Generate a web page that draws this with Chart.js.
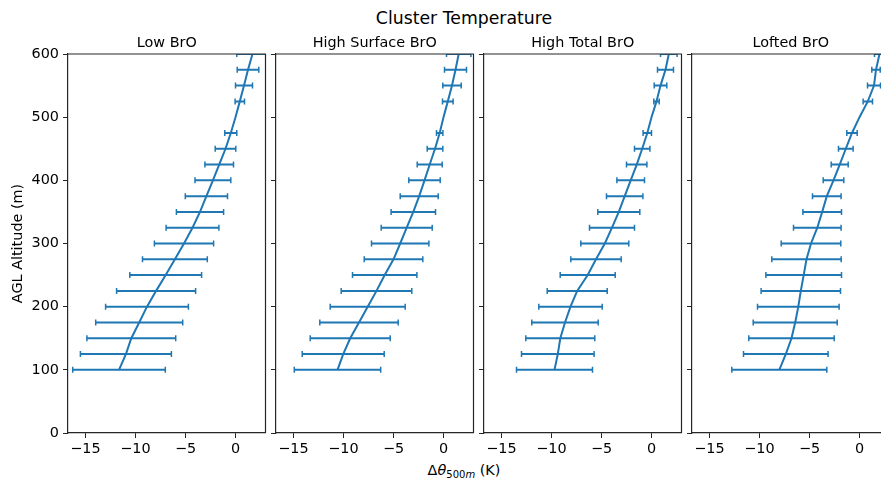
<!DOCTYPE html>
<html>
<head>
<meta charset="utf-8">
<script src="https://cdn.jsdelivr.net/npm/chart.js@4/dist/chart.umd.min.js"></script>
<style>
  html, body { margin: 0; padding: 0; background: #fff; width: 881px; height: 479px; overflow: hidden; position: relative; font-family: "DejaVu Sans", sans-serif; }
  canvas { position: absolute; top: 0; }
  .lbl { position: absolute; left: 0; width: 928px; text-align: center; color: #000; white-space: nowrap; }
  #sup { top: 8px; font-size: 17.3px; line-height: 20px; }
  #xl { top: 461px; font-size: 14.4px; line-height: 18px; }
  #xl sub { font-size: 10px; vertical-align: -3px; line-height: 0; }
</style>
</head>
<body>
<div id="sup" class="lbl">Cluster Temperature</div>
<div id="xl" class="lbl">Δ<i>θ</i><sub>500<i>m</i></sub> (K)</div>
<canvas id="c1" width="270" height="479" style="left:0px"></canvas>
<canvas id="c2" width="210" height="479" style="left:268px"></canvas>
<canvas id="c3" width="210" height="479" style="left:476px"></canvas>
<canvas id="c4" width="210" height="479" style="left:684px"></canvas>
<script>
// ---- data ----
const ALTITUDES = [100, 125, 150, 175, 200, 225, 250, 275, 300, 325, 350, 375, 400, 425, 450, 475, 500, 525, 550, 575, 600];
const PANEL_TITLES = ["Low BrO", "High Surface BrO", "High Total BrO", "Lofted BrO"];

const LOW_MEAN = [-11.65, -10.96, -10.42, -9.63, -8.85, -7.94, -6.98, -6.06, -5.15, -4.30, -3.55, -2.91, -2.26, -1.63, -1.00, -0.47, 0, 0.43, 0.85, 1.25, 1.70];
const LOW_ERR  = [4.63, 4.55, 4.44, 4.35, 4.14, 3.95, 3.59, 3.24, 2.96, 2.64, 2.36, 2.11, 1.79, 1.43, 1.03, 0.60, 0, 0.47, 0.85, 1.08, 1.57];

const HSURF_MEAN = [-10.60, -10.03, -9.33, -8.45, -7.58, -6.70, -5.88, -5.00, -4.33, -3.68, -3.02, -2.43, -1.90, -1.38, -0.85, -0.38, 0, 0.43, 0.85, 1.20, 1.52];
const HSURF_ERR  = [4.32, 4.10, 4.00, 3.92, 3.75, 3.53, 3.22, 2.93, 2.87, 2.55, 2.22, 1.90, 1.57, 1.25, 0.78, 0.32, 0, 0.53, 0.92, 1.10, 1.22];

const HTOT_MEAN = [-9.70, -9.37, -9.12, -8.65, -8.10, -7.43, -6.38, -5.55, -4.67, -3.95, -3.27, -2.68, -2.08, -1.48, -0.93, -0.42, 0, 0.50, 0.90, 1.40, 1.73];
const HTOT_ERR  = [3.80, 3.63, 3.45, 3.32, 3.17, 3.00, 2.75, 2.52, 2.40, 2.25, 2.10, 1.82, 1.38, 1.02, 0.77, 0.42, 0, 0.27, 0.63, 0.80, 0.83];

const LOFT_MEAN = [-8.02, -7.37, -6.80, -6.43, -6.12, -5.87, -5.58, -5.30, -4.85, -4.22, -3.73, -3.27, -2.60, -1.98, -1.37, -0.75, 0, 0.83, 1.45, 1.65, 2.00];
const LOFT_ERR  = [4.75, 4.23, 4.27, 4.20, 4.08, 3.97, 3.78, 3.47, 2.98, 2.38, 1.93, 1.43, 1.03, 0.85, 0.73, 0.52, 0, 0.47, 0.65, 0.42, 0.50];

const X_TICKS = [-15, -10, -5, 0];
const Y_TICKS = [0, 100, 200, 300, 400, 500, 600];
const X_MIN = -16.75, X_MAX = 3.0;
const Y_MIN = 0, Y_MAX = 600;

// ---- style ----
const BLUE = '#1f77b4';
const INK = '#000';
const SPINE = '#262626';
const FONT = '"DejaVu Sans", sans-serif';

const framePlugin = {
  id: 'frame',
  afterDatasetsDraw(chart) {
    const a = chart.chartArea, ctx = chart.ctx;
    ctx.save();
    ctx.strokeStyle = SPINE;
    ctx.lineWidth = 1.2;
    ctx.beginPath();
    ctx.moveTo(a.left, a.top);
    ctx.lineTo(a.right, a.top);
    ctx.lineTo(a.right, a.bottom);
    ctx.stroke();
    ctx.restore();
  }
};

function minusFmt(v) { return v < 0 ? '\u2212' + Math.abs(v) : String(v); }

function makePanel(id, title, means, errs, first) {
  const datasets = [];
  datasets.push({
    data: ALTITUDES.map((a, i) => ({ x: means[i], y: a })),
    borderColor: BLUE, borderWidth: 2, pointRadius: 0, tension: 0, fill: false
  });
  ALTITUDES.forEach((a, i) => {
    if (!(errs[i] > 0)) return;
    datasets.push({
      data: [{ x: means[i] - errs[i], y: a }, { x: means[i] + errs[i], y: a }],
      borderColor: BLUE, borderWidth: 2, fill: false, tension: 0,
      pointStyle: 'line', pointRotation: 90, pointRadius: 3,
      pointBorderColor: BLUE, pointBorderWidth: 1.5, pointBackgroundColor: BLUE,
      pointHoverRadius: 3
    });
  });
  new Chart(document.getElementById(id), {
    type: 'line',
    data: { datasets },
    options: {
      responsive: false, animation: false, devicePixelRatio: 1,
      events: [],
      layout: { padding: { left: 0, right: 4, top: 0, bottom: 0 } },
      plugins: {
        legend: { display: false },
        tooltip: { enabled: false },
        title: {
          display: true, text: title, fullSize: false, color: INK,
          font: { family: FONT, size: 14.4, weight: 'normal', lineHeight: 1.2 },
          padding: { top: 34.6, bottom: 2.12 }
        }
      },
      scales: {
        x: {
          type: 'linear', position: 'bottom', min: X_MIN, max: X_MAX,
          afterBuildTicks: s => { s.ticks = X_TICKS.map(v => ({ value: v })); },
          afterFit: s => { s.height = 46; },
          ticks: { color: INK, font: { family: FONT, size: 14.4 }, padding: 2.5, maxRotation: 0, autoSkip: false, callback: v => minusFmt(v) },
          grid: { drawOnChartArea: false, drawTicks: true, tickLength: 5, color: SPINE, tickWidth: 1 },
          border: { display: true, color: SPINE, width: 1.2 }
        },
        y: {
          type: 'linear', position: 'left', min: Y_MIN, max: Y_MAX,
          afterBuildTicks: s => { s.ticks = Y_TICKS.map(v => ({ value: v })); },
          afterFit: s => { s.width = first ? 68 : 8; },
          ticks: { display: first, color: INK, font: { family: FONT, size: 14.4 }, padding: 4, autoSkip: false, callback: v => String(v) },
          grid: { drawOnChartArea: false, drawTicks: true, tickLength: 5, color: SPINE, tickWidth: 1 },
          border: { display: true, color: SPINE, width: 1.2 },
          title: first ? { display: true, text: 'AGL Altitude (m)', color: INK, font: { family: FONT, size: 14.4 }, padding: { top: 9.4, bottom: 0 } } : { display: false }
        }
      }
    },
    plugins: [framePlugin]
  });
}

makePanel('c1', PANEL_TITLES[0], LOW_MEAN, LOW_ERR, true);
makePanel('c2', PANEL_TITLES[1], HSURF_MEAN, HSURF_ERR, false);
makePanel('c3', PANEL_TITLES[2], HTOT_MEAN, HTOT_ERR, false);
makePanel('c4', PANEL_TITLES[3], LOFT_MEAN, LOFT_ERR, false);
</script>
</body>
</html>
